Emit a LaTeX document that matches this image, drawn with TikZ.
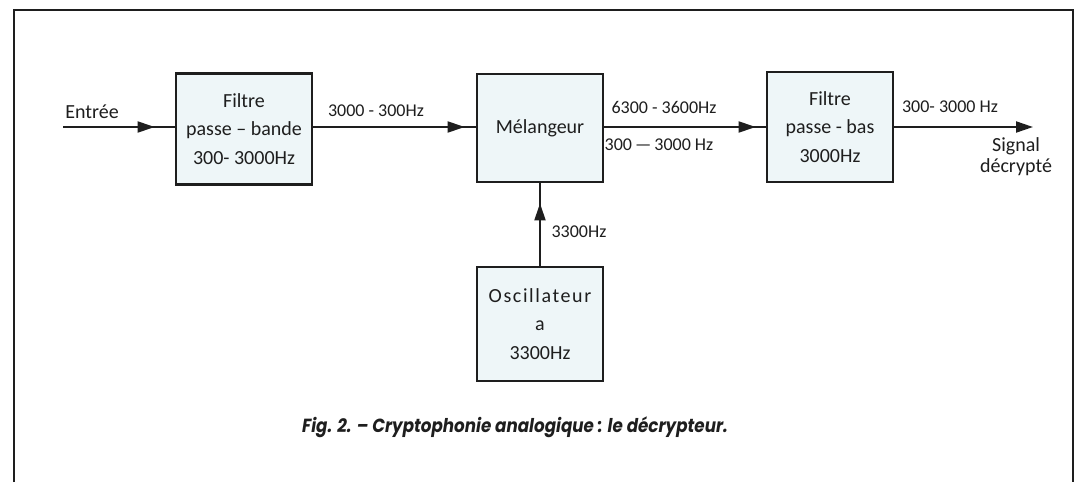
\documentclass[tikz,border=0pt]{standalone}
\usepackage{fontspec}
\setmainfont{Carlito}
\newfontfamily\capfont{Poppins}
\usetikzlibrary{arrows.meta,decorations.markings}
\definecolor{boxfill}{HTML}{EEF6F8}
\definecolor{ink}{HTML}{1E1E1E}
\begin{document}
\begin{tikzpicture}[x=1pt,y=-1pt,
  blk/.style={draw=ink, line width=2.8pt, fill=boxfill, align=center, inner sep=0pt, text=ink, font=\fontsize{20}{28.5}\selectfont},
  wire/.style={draw=ink, line width=2pt},
  midarrow/.style={postaction={decorate}, decoration={markings, mark=at position #1 with {\arrow{Triangle[length=17pt,width=11pt]}}}},
  lbl/.style={text=ink, font=\fontsize{20}{21}\selectfont, inner sep=0pt},
  numlbl/.style={text=ink, font=\fontsize{18}{20}\selectfont, inner sep=0pt},
  frame/.style={draw=ink, line width=2pt}]
\useasboundingbox[fill=white] (0,0) rectangle (1089,482);
% frame
\coordinate (fbl) at (14,482);
\coordinate (ftl) at (14,10);
\coordinate (ftr) at (1073,10);
\coordinate (fbr) at (1073,482);
\draw[frame] (fbl) -- (ftl) -- (ftr) -- (fbr);
% blocks
\node[blk, minimum width=136pt, minimum height=111pt] (f1) at (244,129) {Filtre\\passe -- bande\\300- 3000Hz};
\node[blk, minimum width=126pt, minimum height=108pt] (mx) at (540,128) {Mélangeur};
\node[blk, minimum width=126pt, minimum height=110pt] (f2) at (830,127) {Filtre\\passe - bas\\3000Hz};
\node[blk, minimum width=126pt, minimum height=114pt] (osc) at (540,324) {{\addfontfeature{LetterSpace=8}Oscillateur}\\a\\3300Hz};
% connectors
\coordinate (in) at (63,127);
\coordinate (out) at (1033,127);
\draw[wire, midarrow=-20pt] (in) -- (f1.west |- in);
\draw[wire, midarrow=-11pt] (f1.east |- in) -- (mx.west |- in);
\draw[wire, midarrow=-10pt] (mx.east |- in) -- (f2.west |- in);
\draw[wire, -{Triangle[length=17pt,width=11pt]}] (f2.east |- in) -- (out);
\draw[wire, midarrow=-20pt] (osc.north) -- (mx.south);
% labels
\node[lbl] (lin) at (92,112) {Entrée};
\node[numlbl] (l1) at (376,111) {3000 - 300Hz};
\node[numlbl] (l2) at (664,107) {6300 - 3600Hz};
\node[numlbl] (l3) at (659,145) {300\,—\,3000 Hz};
\node[numlbl] (l4) at (950,107) {300- 3000 Hz};
\node[lbl, align=center] (l5) at (1016,157) {Signal\\décrypté};
\node[numlbl] (l6) at (579,232) {3300Hz};
% caption
\node[text=ink, inner sep=0pt, font=\capfont\bfseries\itshape\fontsize{19}{20}\selectfont] (cap) at (515,427) {\scalebox{0.88}[1]{Fig. 2. – Cryptophonie analogique : le décrypteur.}};
\end{tikzpicture}
\end{document}
